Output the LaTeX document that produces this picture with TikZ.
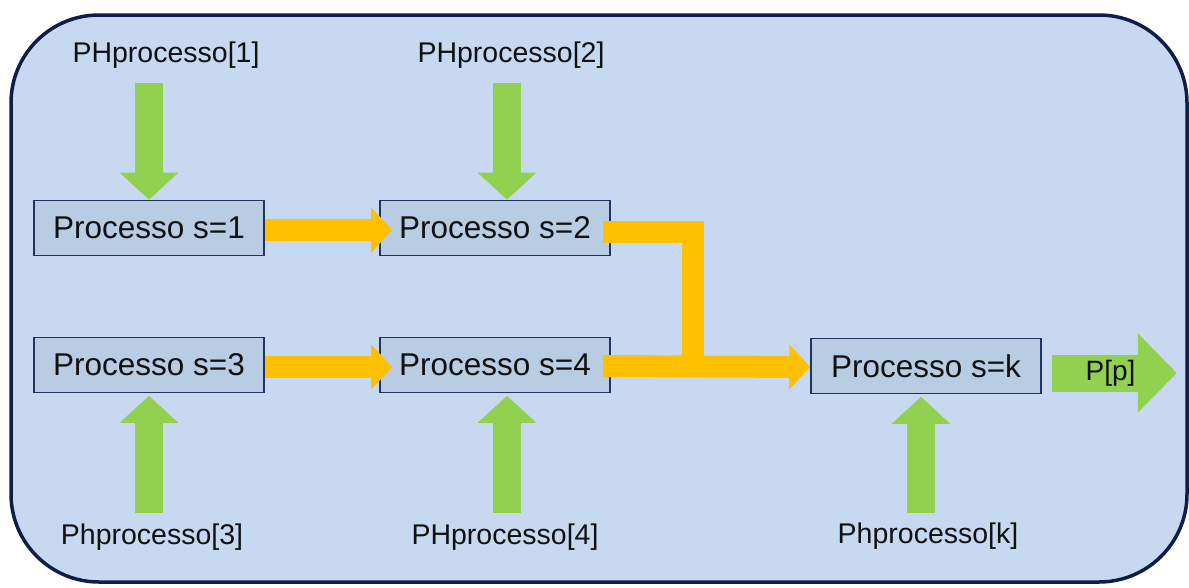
\documentclass[tikz,border=0pt]{standalone}
\usepackage{fontspec}
\setmainfont{Liberation Sans}
\usetikzlibrary{arrows.meta}

\definecolor{panelfill}{HTML}{C6D9F0}
\definecolor{panelline}{HTML}{0E1E48}
\definecolor{boxfill}{HTML}{B8CCE4}
\definecolor{boxline}{HTML}{1F3560}
\definecolor{flowgreen}{HTML}{92D050}
\definecolor{floworange}{HTML}{FFC000}
\definecolor{inkblack}{HTML}{111111}

\tikzset{
  procbox/.style={draw=boxline, line width=1.6pt, fill=boxfill,
    minimum width=230pt, minimum height=55pt, inner sep=0pt,
    text=inkblack, font=\fontsize{31.5}{36}\selectfont},
  inlabel/.style={inner sep=0pt, text=inkblack, font=\fontsize{28.5}{33}\selectfont},
  feedarrow/.style={draw=flowgreen, line width=28pt,
    -{Triangle[width=57pt,length=27pt]}},
  passarrow/.style={draw=floworange, line width=22pt,
    -{Triangle[width=44pt,length=21pt]}},
  passline/.style={draw=floworange, line width=22pt, line join=miter},
  outarrow/.style={draw=flowgreen, line width=37pt,
    -{Triangle[width=77pt,length=39pt]}}
}

\begin{document}
\begin{tikzpicture}[x=1pt, y=-1pt]
  \useasboundingbox (0,0) rectangle (1189,587);

  % surrounding panel
  \draw[panelline, line width=3.5pt, fill=panelfill, rounded corners=88pt]
    (11,15) rectangle (1187,582);

  % process boxes
  \node[procbox] (s1) at (149,228) {Processo s=1};
  \node[procbox] (s2) at (495,228) {Processo s=2};
  \node[procbox] (s3) at (149,365) {Processo s=3};
  \node[procbox] (s4) at (495,365) {Processo s=4};
  \node[procbox] (sk) at (926,366) {Processo s=k};

  % input labels
  \node[inlabel] (l1) at (166,55)  {PHprocesso[1]};
  \node[inlabel] (l2) at (511,55)  {PHprocesso[2]};
  \node[inlabel] (l3) at (152,537) {Phprocesso[3]};
  \node[inlabel] (l4) at (505,537) {PHprocesso[4]};
  \node[inlabel] (lk) at (928,536) {Phprocesso[k]};

  % tails of the input arrows
  \coordinate (g1) at (149,83);
  \coordinate (g2) at (507,83);
  \coordinate (g3) at (149,513);
  \coordinate (g4) at (507,513);
  \coordinate (gk) at (921,513);

  % input arrows
  \draw[feedarrow] (g1) -- (g1 |- s1.north);
  \draw[feedarrow] (g2) -- (g2 |- s2.north);
  \draw[feedarrow, shorten >=2.5pt] (g3) -- (g3 |- s3.south);
  \draw[feedarrow, shorten >=2.5pt] (g4) -- (g4 |- s4.south);
  \draw[feedarrow, shorten >=2.5pt] (gk) -- (gk |- sk.south);

  % flow between the processes
  \coordinate (merge) at (693,377);
  \draw[passarrow] ([yshift=-2pt]s1.east) -- ([xshift=13pt,yshift=-2pt]s2.west);
  \draw[passarrow] ([yshift=-2pt]s3.east) -- ([xshift=13pt,yshift=-2pt]s4.west);
  \draw[passline] ([xshift=-8pt,yshift=-4pt]s2.east) -| (merge);
  \draw[passarrow] ([xshift=-8pt,yshift=-1pt]s4.east) -- ([yshift=-1pt]sk.west);

  % output arrow
  \draw[outarrow] ([xshift=10pt,yshift=-7pt]sk.east) -- ++(125,0)
    node[inlabel, font=\fontsize{28}{33}\selectfont, pos=0.47] (out) {P[p]};
\end{tikzpicture}
\end{document}
